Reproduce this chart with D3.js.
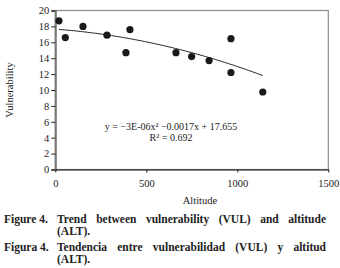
<!DOCTYPE html>
<html><head><meta charset="utf-8">
<script src="https://cdn.jsdelivr.net/npm/d3@7"></script>
<style>
html,body{margin:0;padding:0;background:#fff;}
svg{display:block;}
</style></head>
<body>
<svg id="c" width="340" height="268"></svg>
<script>
const altitude = [20, 55, 152, 284, 388, 410, 663, 749, 845, 965, 965, 1140];
const vulnerability = [18.7, 16.6, 18.0, 16.9, 14.7, 17.6, 14.7, 14.2, 13.7, 16.45, 12.2, 9.75];
const xTicks = [0, 500, 1000, 1500];
const yTicks = [0, 2, 4, 6, 8, 10, 12, 14, 16, 18, 20];
const trendCoef = [-3e-6, -0.0017, 17.655];
const equationText = "y = \u22123E-06x\u00B2 \u22120.0017x + 17.655";
const r2Text = "R\u00B2 = 0.692";
const xTitle = "Altitude", yTitle = "Vulnerability";
const captions = [
  ["Figure 4.", "Trend between vulnerability (VUL) and altitude", "(ALT)."],
  ["Figura 4.", "Tendencia entre vulnerabilidad (VUL) y altitud", "(ALT)."]
];

const FONT = "Liberation Serif";
const svg = d3.select("#c");
const L = 55.3, R = 328.3, T = 10.5, B = 169.5;
const x = d3.scaleLinear().domain([0, 1500]).range([L, R]);
const y = d3.scaleLinear().domain([0, 20]).range([B, T]);

// plot border
svg.append("rect").attr("x", L).attr("y", T).attr("width", R - L).attr("height", B - T)
  .attr("fill", "none").attr("stroke", "#8a8a8a").attr("stroke-width", 1.2);

// y axis
const ya = svg.append("g").attr("transform", `translate(${L},0)`)
  .call(d3.axisLeft(y).tickValues(yTicks).tickSize(4).tickPadding(2).tickFormat(d3.format("d")));
ya.attr("font-family", FONT);
ya.select(".domain").attr("stroke", "#777").attr("stroke-width", 2);
ya.selectAll("text").attr("font-size", 10.5).attr("fill", "#222").attr("font-family", FONT);
ya.selectAll("line").attr("stroke", "#222");

// x axis
const xa = svg.append("g").attr("transform", `translate(0,${B})`)
  .call(d3.axisBottom(x).tickValues(xTicks).tickSize(3).tickPadding(7).tickSizeOuter(0).tickFormat(d3.format("d")));
xa.attr("font-family", FONT);
xa.select(".domain").attr("stroke", "#111").attr("stroke-width", 1.2);
xa.selectAll("text").attr("font-size", 10.5).attr("fill", "#222").attr("font-family", FONT);
xa.selectAll("line").attr("stroke", "#222");

// trend line
const xs = d3.range(d3.min(altitude), d3.max(altitude) + 1, 10);
const f = v => trendCoef[0] * v * v + trendCoef[1] * v + trendCoef[2];
svg.append("path").datum(xs)
  .attr("d", d3.line().x(d => x(d)).y(d => y(f(d))))
  .attr("fill", "none").attr("stroke", "#222").attr("stroke-width", 1);

// points
svg.selectAll("circle.pt").data(altitude).join("circle").attr("class", "pt")
  .attr("cx", d => x(d)).attr("cy", (d, i) => y(vulnerability[i])).attr("r", 3.6)
  .attr("fill", "#1a1a1a");

const txt = svg.append("g").attr("font-family", FONT).attr("fill", "#222");
// equation
txt.append("text").attr("x", 171).attr("y", 130).attr("text-anchor", "middle")
  .attr("font-size", 10).text(equationText);
txt.append("text").attr("x", 171).attr("y", 141).attr("text-anchor", "middle")
  .attr("font-size", 10).text(r2Text);

// titles
txt.append("text").attr("x", 200).attr("y", 204).attr("text-anchor", "middle")
  .attr("font-size", 10.5).text(xTitle);
txt.append("text").attr("transform", "translate(13,90) rotate(-90)").attr("text-anchor", "middle")
  .attr("font-size", 10.5).text(yTitle);

// captions (justified by word)
captions.forEach((c, i) => {
  const base = 223 + i * 28;
  const g = txt.append("g").attr("font-weight", "bold").attr("font-size", 11.5);
  g.append("text").attr("x", 4).attr("y", base).text(c[0]);
  const words = c[1].split(" ");
  const x0 = 57, x1 = 326;
  const nodes = words.map(w => g.append("text").attr("y", base).text(w));
  const widths = nodes.map(n => n.node().getComputedTextLength());
  const gap = (x1 - x0 - d3.sum(widths)) / (words.length - 1);
  let cx = x0;
  nodes.forEach((n, k) => { n.attr("x", cx); cx += widths[k] + gap; });
  g.append("text").attr("x", x0).attr("y", base + 11.5).text(c[2]);
});
</script>
</body></html>
